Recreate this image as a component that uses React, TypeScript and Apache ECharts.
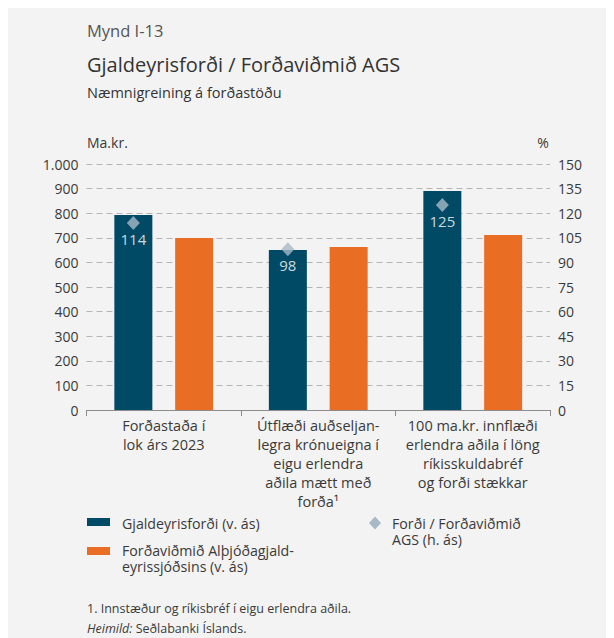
import React, { useEffect, useRef } from "react";
import * as echarts from "echarts";

const categories = [
  "Forðastaða í\nlok árs 2023",
  "Útflæði auðseljan-\nlegra krónueigna í\neigu erlendra\naðila mætt með\nforða¹",
  "100 ma.kr. innflæði\nerlendra aðila í löng\nríkisskuldabréf\nog forði stækkar",
];
const reserves = [793, 650, 890];
const imfMetric = [699, 663, 711];
const ratio = [114, 98, 125];
const seriesNames = [
  "Gjaldeyrisforði (v. ás)",
  "Forðaviðmið Alþjóðagjald-\neyrissjóðsins (v. ás)",
  "Forði / Forðaviðmið\nAGS (h. ás)",
];

const FONT = "'Open Sans', 'Noto Sans', sans-serif";
const DARK = "#004a65";
const ORANGE = "#ea6d24";
const DIAMOND = "#a7b9c7";
const TEXT = "#3a3a3a";
const BAR_W = 38;
const BAR_GAP = 0.6;

export default function App() {
  const ref = useRef<HTMLDivElement>(null);
  useEffect(() => {
    if (!ref.current) return;
    const chart = echarts.init(ref.current, undefined, { renderer: "svg" });
    const offset = -(BAR_W + BAR_W * BAR_GAP) / 2;
    const txt = (x: number, y: number, text: string, size: number, color: string, extra: any = {}) => ({
      type: "text",
      x,
      y,
      style: { text, fontSize: size, fill: color, fontFamily: FONT, verticalAlign: "middle", align: "left", ...extra },
    });
    const multi = (x: number, y: number, text: string, size: number, lh: number) =>
      text.split("\n").map((line, i) => txt(x, y + i * lh, line, size, TEXT, { lineHeight: lh }));
    chart.setOption({
      animation: false,
      backgroundColor: "#f3f3f3",
      textStyle: { fontFamily: FONT },
      grid: { left: 78.5, right: 64, top: 156, bottom: 228 },
      xAxis: {
        type: "category",
        data: categories,
        axisLine: { lineStyle: { color: "#8c8c8c", width: 1 } },
        axisTick: { show: true, length: 6, lineStyle: { color: "#8c8c8c" } },
        axisLabel: { color: TEXT, fontSize: 14.5, lineHeight: 19, margin: 6, interval: 0 },
      },
      yAxis: [
        {
          type: "value",
          min: 0,
          max: 1000,
          interval: 100,
          axisLine: { show: false },
          axisTick: { show: false },
          axisLabel: {
            color: TEXT,
            fontSize: 14,
            margin: 8,
            formatter: (v: number) => String(v).replace(/\B(?=(\d{3})+(?!\d))/g, "."),
          },
          splitLine: { lineStyle: { color: "#b5b5b5", type: [6, 4], width: 1 } },
        },
        {
          type: "value",
          min: 0,
          max: 150,
          interval: 15,
          position: "right",
          axisLine: { show: false },
          axisTick: { show: false },
          axisLabel: { color: TEXT, fontSize: 14, margin: 8 },
          splitLine: { show: false },
        },
      ],
      series: [
        {
          name: seriesNames[0],
          type: "bar",
          data: reserves,
          barWidth: BAR_W,
          barGap: BAR_GAP * 100 + "%",
          itemStyle: { color: DARK },
        },
        {
          name: seriesNames[1],
          type: "bar",
          data: imfMetric,
          barWidth: BAR_W,
          barGap: BAR_GAP * 100 + "%",
          itemStyle: { color: ORANGE },
        },
        {
          name: seriesNames[2],
          type: "scatter",
          yAxisIndex: 1,
          data: ratio,
          symbol: "diamond",
          symbolSize: [13, 14],
          symbolOffset: [offset, 0],
          itemStyle: { color: DIAMOND },
          label: {
            show: true,
            position: "bottom",
            distance: 1,
            color: "#ffffff",
            fontSize: 15,
            fontFamily: FONT,
          },
          z: 5,
        },
      ],
      graphic: [
        txt(79, 22, "Mynd I-13", 16.5, "#555555"),
        txt(79, 56, "Gjaldeyrisforði / Forðaviðmið AGS", 20, "#333333"),
        txt(79, 84, "Næmnigreining á forðastöðu", 14.5, "#333333"),
        txt(79, 134, "Ma.kr.", 14, TEXT),
        txt(535, 134, "%", 14, TEXT, { align: "center" }),
        { type: "rect", shape: { x: 79, y: 510, width: 23, height: 8 }, style: { fill: DARK } },
        ...multi(114, 515, seriesNames[0], 14.2, 16.5),
        { type: "rect", shape: { x: 79, y: 539, width: 23, height: 8 }, style: { fill: ORANGE } },
        ...multi(114, 542, seriesNames[1], 14.2, 16.5),
        {
          type: "polygon",
          shape: { points: [[367, 508.5], [373, 515], [367, 521.5], [361, 515]] },
          style: { fill: DIAMOND },
        },
        ...multi(384, 515, seriesNames[2], 14.2, 16.5),
        txt(79, 600, "1. Innstæður og ríkisbréf í eigu erlendra aðila.", 12.5, TEXT),
        {
          type: "text",
          x: 79,
          y: 620,
          style: {
            text: "{i|Heimild:} Seðlabanki Íslands.",
            fontSize: 12.5,
            fill: TEXT,
            fontFamily: FONT,
            verticalAlign: "middle",
            rich: { i: { fontStyle: "italic", fontSize: 12.5, fill: TEXT, fontFamily: FONT } },
          },
        },
      ],
    });
    return () => chart.dispose();
  }, []);
  return <div ref={ref} style={{ width: 606, height: 630 }} />;
}
